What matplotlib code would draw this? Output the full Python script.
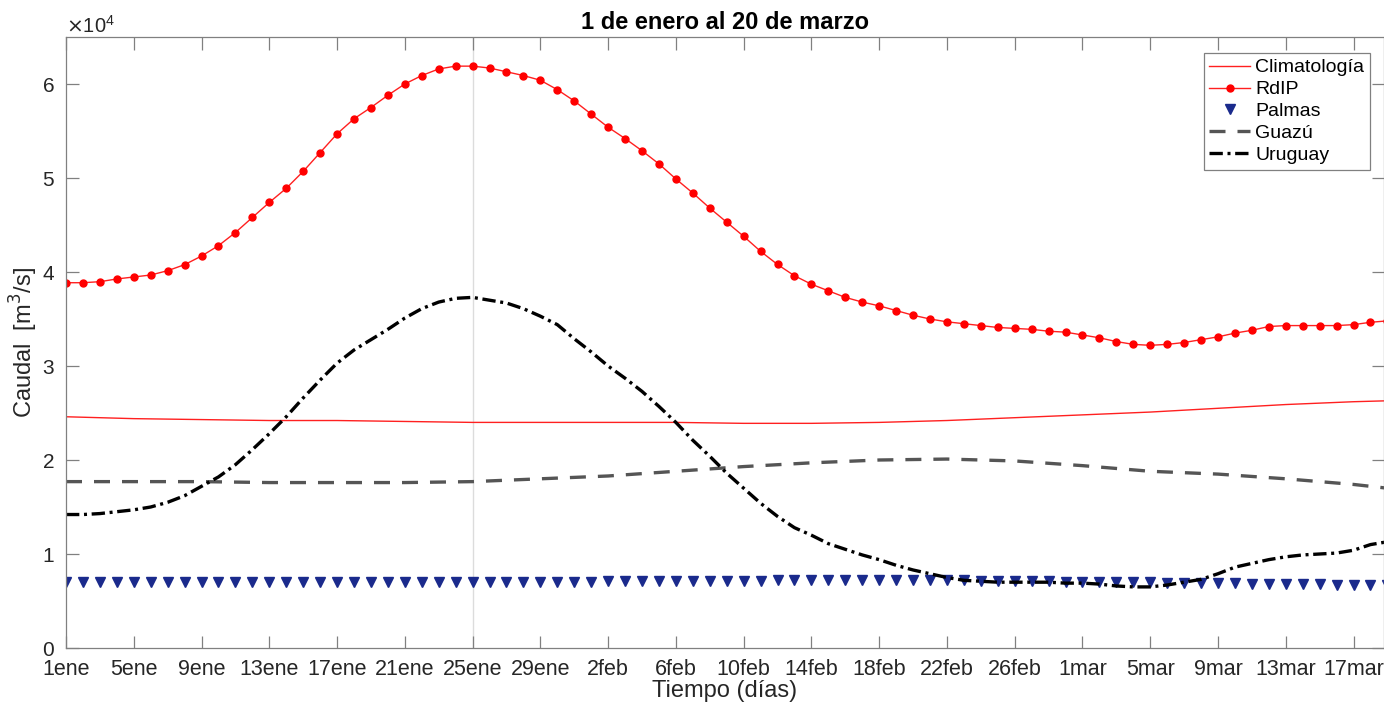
import numpy as np
import matplotlib
matplotlib.use('Agg')
import matplotlib.pyplot as plt
from matplotlib.ticker import ScalarFormatter

plt.rcParams['font.family'] = ['Liberation Sans', 'DejaVu Sans']
plt.rcParams['axes.formatter.use_mathtext'] = True

# caudales en unidades de 1e4 m3/s, dia 1 = 1 de enero
rdip = [3.886, 3.886, 3.897, 3.926, 3.947, 3.968, 4.014, 4.078, 4.17, 4.28,
        4.42, 4.58, 4.74, 4.89, 5.07, 5.27, 5.47, 5.63, 5.75, 5.88,
        6.00, 6.09, 6.16, 6.19, 6.19, 6.17, 6.13, 6.09, 6.04, 5.94,
        5.82, 5.68, 5.54, 5.42, 5.29, 5.15, 4.99, 4.84, 4.68, 4.53,
        4.38, 4.22, 4.08, 3.96, 3.87, 3.80, 3.73, 3.68, 3.64, 3.59,
        3.54, 3.50, 3.47, 3.45, 3.43, 3.41, 3.40, 3.39, 3.37, 3.36,
        3.33, 3.30, 3.26, 3.23, 3.22, 3.23, 3.25, 3.28, 3.31, 3.35,
        3.38, 3.42, 3.43, 3.43, 3.43, 3.43, 3.44, 3.465, 3.48]

uruguay = [1.42, 1.42, 1.43, 1.45, 1.47, 1.50, 1.55, 1.62, 1.72, 1.82,
           1.95, 2.11, 2.28, 2.46, 2.66, 2.85, 3.03, 3.17, 3.28, 3.39,
           3.51, 3.61, 3.68, 3.72, 3.73, 3.70, 3.67, 3.61, 3.53, 3.44,
           3.29, 3.15, 3.00, 2.87, 2.73, 2.57, 2.40, 2.21, 2.04, 1.86,
           1.70, 1.54, 1.40, 1.28, 1.20, 1.11, 1.05, 0.99, 0.94, 0.88,
           0.83, 0.79, 0.75, 0.72, 0.71, 0.70, 0.70, 0.70, 0.70, 0.69,
           0.69, 0.68, 0.66, 0.65, 0.65, 0.67, 0.70, 0.73, 0.79, 0.86,
           0.90, 0.94, 0.97, 0.99, 1.00, 1.01, 1.04, 1.10, 1.13]

palmas = [0.70, 0.70, 0.70, 0.70, 0.70, 0.70, 0.70, 0.70, 0.70, 0.70,
          0.70, 0.70, 0.70, 0.70, 0.70, 0.70, 0.70, 0.70, 0.70, 0.70,
          0.70, 0.70, 0.70, 0.70, 0.70, 0.70, 0.70, 0.70, 0.705, 0.705,
          0.705, 0.705, 0.71, 0.71, 0.71, 0.71, 0.71, 0.71, 0.71, 0.715,
          0.715, 0.715, 0.72, 0.72, 0.72, 0.72, 0.72, 0.72, 0.72, 0.72,
          0.72, 0.72, 0.72, 0.72, 0.715, 0.715, 0.71, 0.71, 0.71, 0.705,
          0.705, 0.70, 0.70, 0.70, 0.70, 0.695, 0.695, 0.69, 0.69, 0.69,
          0.685, 0.685, 0.68, 0.68, 0.68, 0.675, 0.675, 0.67, 0.67]

# series suaves leidas cada 4 dias
dias_4 = [1, 5, 9, 13, 17, 21, 25, 29, 33, 37, 41, 45, 49, 53, 57, 61, 65, 69, 73, 77, 79]
clima = [2.46, 2.44, 2.43, 2.42, 2.42, 2.41, 2.40, 2.40, 2.40, 2.40, 2.39,
         2.39, 2.40, 2.42, 2.45, 2.48, 2.51, 2.55, 2.59, 2.62, 2.63]
guazu = [1.77, 1.77, 1.77, 1.76, 1.76, 1.76, 1.77, 1.80, 1.83, 1.88, 1.93,
         1.97, 2.00, 2.01, 1.99, 1.94, 1.88, 1.85, 1.80, 1.74, 1.70]

tick_dias = [1, 5, 9, 13, 17, 21, 25, 29, 33, 37, 41, 45, 49, 53, 57, 61, 65, 69, 73, 77]
tick_labels = ['1ene', '5ene', '9ene', '13ene', '17ene', '21ene', '25ene', '29ene',
               '2feb', '6feb', '10feb', '14feb', '18feb', '22feb', '26feb',
               '1mar', '5mar', '9mar', '13mar', '17mar']

dia_marca = 25

dias = np.arange(1, len(rdip) + 1)
esc = 1e4

fig = plt.figure(figsize=(13.84, 7.08), dpi=100)
ax = fig.add_axes([66/1384, 1 - 648/708, 1 - 66/1384, (648 - 37)/708])

ax.axvline(dia_marca, color='#dcdcdc', lw=1.0, zorder=0)

ax.plot(dias_4, np.array(clima)*esc, '-', color='#ff2020', lw=1.0, label='Climatología')
ax.plot(dias, np.array(rdip)*esc, '-o', color='#ff2020', lw=1.0, ms=5,
        mfc='red', mec='red', label='RdIP')
ax.plot(dias, np.array(palmas)*esc, 'v', color='#1a2a8c', ms=7, ls='none', label='Palmas')
ax.plot(dias_4, np.array(guazu)*esc, color='#555555', lw=2.4, dashes=(4.8, 3.6), label='Guazú')
ax.plot(dias, np.array(uruguay)*esc, color='black', lw=2.4, dashes=(4.0, 1.4, 0.9, 1.4),
        label='Uruguay')

ax.set_xlim(1, 78.8)
ax.set_ylim(0, 6.5e4)
ax.set_xticks(tick_dias)
ax.set_xticklabels(tick_labels)
ax.set_yticks(np.arange(0, 7e4, 1e4))

fmt = ScalarFormatter(useMathText=True)
fmt.set_powerlimits((0, 0))
ax.yaxis.set_major_formatter(fmt)
ax.yaxis.get_offset_text().set_fontsize(14.5)
ax.yaxis.get_offset_text().set_color('#262626')

for s in ax.spines.values():
    s.set_color('#808080')
    s.set_linewidth(0.9)
ax.tick_params(direction='in', length=9, width=0.9, color='#808080',
               labelsize=15.5, labelcolor='#262626', top=True, right=True)
ax.tick_params(axis='x', pad=8)
ax.tick_params(axis='y', pad=8, labelsize=15)

ax.set_title('1 de enero al 20 de marzo', fontsize=17, fontweight='bold', pad=6)
ax.set_xlabel('Tiempo (días)', fontsize=17, color='#262626', labelpad=0)
ax.set_ylabel('Caudal  [m$^3$/s]', fontsize=17, color='#262626', labelpad=1)

leg = ax.legend(loc='upper right', bbox_to_anchor=(1 - 14/1318, 1 - 16/611),
                borderaxespad=0, fontsize=14, handlelength=2.1, handletextpad=0.25,
                labelspacing=0.22, borderpad=0.3, fancybox=False, framealpha=1)
leg.get_frame().set_edgecolor('#808080')
leg.get_frame().set_linewidth(0.9)

fig.savefig('out.png', dpi=100)
